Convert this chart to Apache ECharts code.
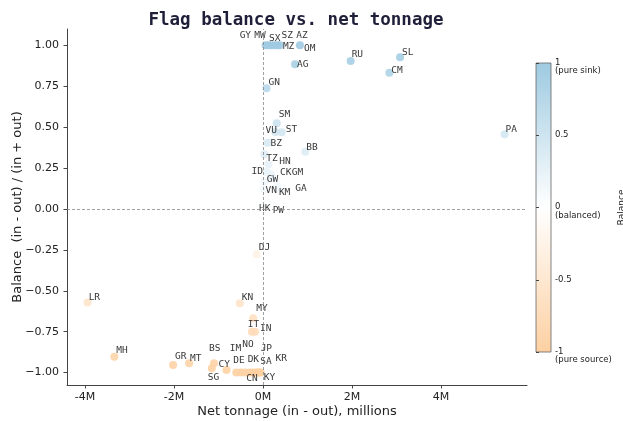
<!DOCTYPE html>
<html><head><meta charset="utf-8">
<script src="https://cdn.jsdelivr.net/npm/echarts@6/dist/echarts.min.js"></script>
<style>html,body{margin:0;padding:0;background:#fff}#c{width:623px;height:421px}</style>
</head><body><div id="c"></div>
<script>
// Flag states: net gross tonnage change (millions) and balance ratio
const codes = ['GY','MW','SX','SZ','AZ','MZ','OM','AG','RU','SL','CM','PA','GN','SM','ST','VU','BZ','BB','TZ','HN',
  'ID','GW','CK','GM','GA','VN','KM','HK','PW','DJ','KN','MY','IT','IN','LR','MH','GR','MT','BS','SG',
  'CY','DE','IM','NO','DK','CN','SA','JP','KR','KY'];
const netTonnage = [0.06,0.12,0.18,0.26,0.32,0.38,0.83,0.72,1.97,3.08,2.84,5.43,0.08,0.31,0.42,0.28,0.10,0.95,0.03,0.12,
  0.08,0.04,0.18,0.22,0.32,0.01,0.38,-0.02,0.06,-0.14,-0.52,-0.22,-0.25,-0.18,-3.94,-3.34,-2.02,-1.66,-1.10,-1.15,
  -0.82,-0.60,-0.50,-0.40,-0.30,-0.22,-0.15,-0.12,-0.08,-0.05];
const balance = [1,1,1,1,1,1,1.0,0.885,0.905,0.927,0.833,0.457,0.738,0.524,0.469,0.47,0.405,0.35,0.334,0.273,
  0.228,0.167,0.21,0.19,0.14,0.116,0.106,0.03,0.02,-0.277,-0.577,-0.668,-0.75,-0.75,-0.571,-0.903,-0.953,-0.943,-0.943,-0.974,
  -0.984,-1,-1,-1,-1,-1,-1,-1,-1,-1];
const xTicks = [-4, -2, 0, 2, 4];
const yTicks = [-1, -0.75, -0.5, -0.25, 0, 0.25, 0.5, 0.75, 1];
const cbarTicks = [1, 0.5, 0, -0.5, -1];
const cbarLabels = ['1\n(pure sink)', '0.5', '0\n(balanced)', '-0.5', '-1\n(pure source)'];

// nudges (px) that keep the country tags apart
const labelNudge = {
  GY:[-30,-10], MW:[-18,-10], SX:[-6,-7], SZ:[3,-10], AZ:[15,-10], MZ:[-1,1], OM:[0,3], AG:[-2,0],
  RU:[-3,-6], SL:[-2,-5], CM:[-2,-2], PA:[-3,-5], GN:[-2,-6], SM:[-2,-9], ST:[0,-3], VU:[-14,-2],
  BZ:[-1,1], BB:[-3,-4], TZ:[-2,4], HN:[7,-3], ID:[-19,0], GW:[-2,-2], CK:[5,-2], GM:[15,-5],
  GA:[14,2], VN:[-2,1], KM:[-5,1], HK:[-7,4], PW:[3,5], DJ:[-2,-7], KN:[-2,-6], MY:[-1,-10],
  IT:[-8,-7], IN:[1,-3], LR:[-3,-5], MH:[-2,-6], GR:[-2,-8], MT:[-3,-5], BS:[-9,-15], SG:[-8,9],
  CY:[-12,-5], DE:[-7,-12], IM:[-15,-24], NO:[-7,-28], DK:[-6,-13], CN:[-11,6], SA:[0,-11],
  JP:[-1,-24], KR:[12,-14], KY:[-1,5]
};

const chart = echarts.init(document.getElementById('c'), null, {renderer: 'canvas'});

const points = codes.map((c, i) => ({
  name: c,
  value: [netTonnage[i], balance[i]],
  label: {offset: labelNudge[c] || [0, -5]}
}));

const axisText = {fontFamily: 'DejaVu Sans', fontSize: 11, color: '#222'};

chart.setOption({
  animation: false,
  backgroundColor: '#fff',
  title: {
    text: 'Flag balance vs. net tonnage',
    left: 291, top: 6, textAlign: 'center',
    textStyle: {fontFamily: 'DejaVu Sans Mono', fontWeight: 'bold', fontSize: 17.5, color: '#1f1f3a'}
  },
  grid: [
    {left: 67, right: 96, top: 29, bottom: 36, containLabel: false, outerBoundsMode: 'none'},
    {left: 536, top: 63, width: 15, height: 289, show: true, outerBoundsMode: 'none',
      borderColor: '#666', borderWidth: 0.8,
      backgroundColor: new echarts.graphic.LinearGradient(0, 0, 0, 1, [
        {offset: 0, color: '#9ecae1'}, {offset: 0.5, color: '#ffffff'}, {offset: 1, color: '#fdd0a2'}])}
  ],
  xAxis: [
    {type: 'value', gridIndex: 0, min: -4.404, max: 5.933,
      name: 'Net tonnage (in - out), millions', nameLocation: 'middle', nameGap: 20, nameMoveOverlap: false,
      nameTextStyle: {fontFamily: 'DejaVu Sans', fontSize: 13, color: '#222'},
      axisLine: {show: true, onZero: false, lineStyle: {color: '#444', width: 1}},
      axisTick: {show: true, length: 3.5, customValues: xTicks, lineStyle: {color: '#444'}},
      axisLabel: Object.assign({customValues: xTicks, margin: 6.5, formatter: v => v + 'M'}, axisText),
      splitLine: {show: false}},
    {type: 'value', gridIndex: 1, min: 0, max: 1, show: false}
  ],
  yAxis: [
    {type: 'value', gridIndex: 0, min: -1.076, max: 1.1,
      name: 'Balance  (in - out) / (in + out)', nameLocation: 'middle', nameGap: 43, nameMoveOverlap: false,
      nameTextStyle: {fontFamily: 'DejaVu Sans', fontSize: 13, color: '#222'},
      axisLine: {show: true, onZero: false, lineStyle: {color: '#444', width: 1}},
      axisTick: {show: true, length: 3.5, customValues: yTicks, lineStyle: {color: '#444'}},
      axisLabel: Object.assign({customValues: yTicks, margin: 8,
        formatter: v => v.toFixed(2).replace('-', '\u2212')}, axisText),
      splitLine: {show: false}},
    {type: 'value', gridIndex: 1, min: -1, max: 1, position: 'right',
      name: 'Balance', nameLocation: 'middle', nameGap: 66, nameRotate: 90, nameMoveOverlap: false,
      nameTextStyle: {fontFamily: 'DejaVu Sans', fontSize: 9, color: '#222'},
      axisLine: {show: false},
      axisTick: {show: true, length: 3, customValues: cbarTicks, lineStyle: {color: '#444'}},
      axisLabel: {show: false},
      splitLine: {show: false}}
  ],
  visualMap: {
    type: 'continuous', show: false, seriesIndex: 0, dimension: 1, min: -1, max: 1,
    inRange: {color: ['#fdd0a2', '#ffffff', '#9ecae1']}
  },
  series: [{
    type: 'scatter', xAxisIndex: 0, yAxisIndex: 0,
    symbolSize: 8,
    itemStyle: {opacity: 0.9},
    data: points,
    label: {show: true, position: 'right', distance: 0, formatter: '{b}',
      fontFamily: 'DejaVu Sans Mono', fontSize: 9.5, color: '#222'},
    markLine: {
      silent: true, symbol: ['none', 'none'], animation: false,
      label: {show: false},
      lineStyle: {type: [3, 2], color: '#888', width: 0.8},
      data: [{xAxis: 0}, {yAxis: 0}]
    }
  }]
});

// colour bar tick captions
const cbarText = cbarTicks.map((v, i) => {
  const y = chart.convertToPixel({yAxisIndex: 1}, v);
  return {
    type: 'text', x: 555, y: y - 4.5,
    style: {text: cbarLabels[i], fontFamily: 'DejaVu Sans', fontSize: 8.5, lineHeight: 8.5,
      fill: '#222', align: 'left', verticalAlign: 'top'}
  };
});
chart.setOption({graphic: cbarText});
</script></body></html>
